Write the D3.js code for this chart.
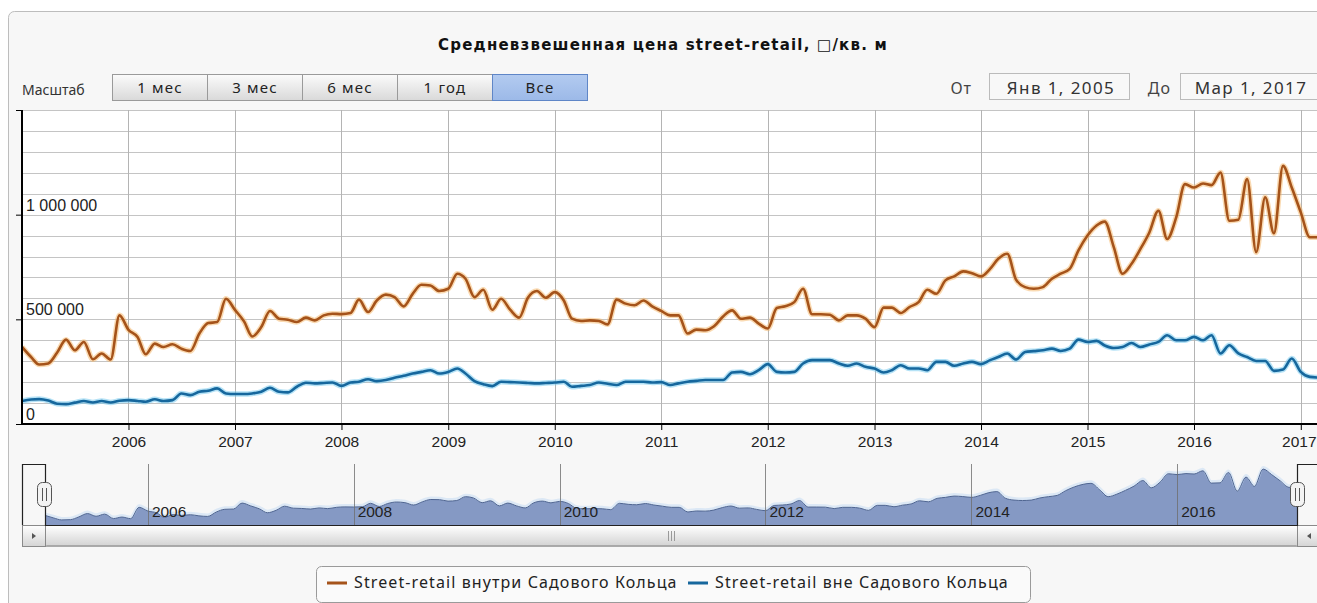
<!DOCTYPE html>
<html><head><meta charset="utf-8">
<script src="https://cdn.jsdelivr.net/npm/d3@7"></script>
<style>body{margin:0;background:#fff;overflow:hidden}</style>
</head><body>
<svg id="c" width="1317" height="603"></svg>
<script>
// ---------- data ----------
const chartTitle = "Средневзвешенная цена street-retail, □/кв. м";
const seriesNames = ["Street-retail внутри Садового Кольца", "Street-retail вне Садового Кольца"];
const firstMonth = new Date(2005, 0, 1);
const lastMonth = new Date(2017, 2, 1);
// monthly values, thousand per sq. m, Jan 2005 .. Mar 2017
const insideRing = [
  368,320,284,289,340,403,352,392,309,337,308,519,
  450,416,333,384,368,381,360,349,432,482,487,598,
  545,490,418,463,540,503,498,487,508,495,519,527,
  525,530,594,535,590,618,606,562,622,665,662,635,
  646,718,694,606,641,546,598,546,508,603,635,603,
  630,590,503,492,495,492,476,594,575,567,590,562,
  540,519,519,432,451,448,467,514,543,503,508,480,
  456,554,562,582,646,524,524,522,495,519,519,503,
  463,556,556,530,559,582,641,622,686,705,729,720,
  705,741,789,813,690,654,646,654,694,718,741,829,
  900,948,967,845,718,765,835,915,1019,884,987,1146,
  1130,1149,1141,1201,971,976,1170,821,1083,911,1233,1130,
  1011,892,892
];
const outsideRing = [
  110,117,119,112,97,95,102,110,103,110,103,111,
  114,110,106,118,110,114,146,138,154,159,170,146,
  143,143,146,154,173,154,151,178,197,194,196,198,
  182,198,202,214,205,210,221,230,241,249,257,241,
  249,265,241,205,190,181,202,200,198,196,194,196,
  198,202,178,182,186,198,192,186,202,202,202,198,
  200,186,194,202,206,210,210,210,246,249,238,257,
  286,249,246,249,289,305,305,305,289,278,289,273,
  265,246,257,281,265,265,257,297,297,278,289,297,
  286,305,320,337,308,344,348,352,360,349,360,403,
  392,397,375,363,368,387,368,380,392,424,400,400,
  416,400,424,337,376,337,320,301,301,254,260,313,
  249,225,222
];
const yMax = 1500;
const yGridStep = 100;
const yTickValues = [0, 500, 1000, 1500];
const yTickLabels = ["0", "500 000", "1 000 000", ""];
const xTickYears = [2006,2007,2008,2009,2010,2011,2012,2013,2014,2015,2016,2017];
const navTickYears = [2006,2008,2010,2012,2014,2016];
const rangeLabel = "Масштаб";
const rangeButtons = ["1 мес","3 мес","6 мес","1 год","Все"];
const selectedButton = 4;
const fromLabel = "От", toLabel = "До";
const fromText = "Янв 1, 2005", toText = "Мар 1, 2017";
const colors = ["#a5531a", "#16679d"];
const haloColors = ["#f6b566", "#6cc6ee"];

// ---------- build ----------
const months = d3.timeMonth.range(firstMonth, d3.timeMonth.offset(lastMonth, 1));
const rows = [insideRing, outsideRing].map(arr => arr.map((v, i) => ({date: months[i], v})));

const svg = d3.select("#c");
const defs = svg.append("defs");
function grad(id, a, b) {
  const g = defs.append("linearGradient").attr("id",id).attr("x1",0).attr("y1",0).attr("x2",0).attr("y2",1);
  g.append("stop").attr("offset","0").attr("stop-color",a);
  g.append("stop").attr("offset","1").attr("stop-color",b);
}
grad("gbtn", "#fbfbfb", "#d9d9d9");
grad("gsel", "#b3cbf0", "#9cb9e8");
grad("gscr", "#ffffff", "#d4d4d4");

// chart frame
svg.append("rect").attr("x",8.5).attr("y",11.5).attr("width",1340).attr("height",640)
  .attr("rx",6).attr("fill","#f7f7f7").attr("stroke","#bdbdbd");

// title
svg.append("text").attr("x",663).attr("y",50).attr("text-anchor","middle")
  .attr("font-family","DejaVu Sans").attr("font-weight","bold").attr("font-size",15)
  .attr("letter-spacing",1.2).attr("fill","#111").text(chartTitle);

// range selector
const uiFont = "Noto Sans";
svg.append("text").attr("x",22).attr("y",95).attr("font-family",uiFont).attr("font-size",14)
  .attr("fill","#333").text(rangeLabel);
const bx = d3.scaleBand().domain(rangeButtons).range([112.5, 587.5]).padding(0);
const btn = svg.append("g").selectAll("g").data(rangeButtons).join("g");
btn.append("rect").attr("x", d => bx(d)).attr("y",74.5).attr("width",bx.bandwidth()).attr("height",26)
  .attr("fill",(d,i)=> i===selectedButton ? "url(#gsel)" : "url(#gbtn)")
  .attr("stroke",(d,i)=> i===selectedButton ? "#5f86c7" : "#9a9a9a");
btn.append("text").attr("x", d => bx(d)+bx.bandwidth()/2).attr("y",93).attr("text-anchor","middle")
  .attr("font-family",uiFont).attr("font-size",15).attr("letter-spacing",1.2).attr("fill","#222").text(d=>d);

// date inputs
svg.append("text").attr("x",972).attr("y",94).attr("text-anchor","end").attr("font-family",uiFont)
  .attr("font-size",16).attr("letter-spacing",1).attr("fill","#444").text(fromLabel);
svg.append("rect").attr("x",989.5).attr("y",73.5).attr("width",140).attr("height",26)
  .attr("fill","#f8f8f8").attr("stroke","#bbb");
svg.append("text").attr("x",1061).attr("y",94).attr("text-anchor","middle").attr("font-family",uiFont)
  .attr("font-size",17).attr("letter-spacing",1.4).attr("fill","#333").text(fromText);
svg.append("text").attr("x",1171).attr("y",94).attr("text-anchor","end").attr("font-family",uiFont)
  .attr("font-size",16).attr("letter-spacing",1).attr("fill","#444").text(toLabel);
svg.append("rect").attr("x",1180.5).attr("y",73.5).attr("width",145).attr("height",26)
  .attr("fill","#f8f8f8").attr("stroke","#bbb");
svg.append("text").attr("x",1251).attr("y",94).attr("text-anchor","middle").attr("font-family",uiFont)
  .attr("font-size",17).attr("letter-spacing",1.4).attr("fill","#333").text(toText);

// main plot
const L = 22, R = 1318, T = 110, B = 424;
const x = d3.scaleTime().domain([firstMonth, lastMonth]).range([L, R]);
const y = d3.scaleLinear().domain([0, yMax]).range([B, T]);
svg.append("rect").attr("x",L).attr("y",T).attr("width",R-L).attr("height",B-T).attr("fill","#fff");

const grid = svg.append("g");
grid.selectAll("line.h").data(d3.range(0, yMax + 1, yGridStep)).join("line")
  .attr("x1",L).attr("x2",R).attr("y1",d=>Math.round(y(d))+0.5).attr("y2",d=>Math.round(y(d))+0.5)
  .attr("stroke","#c4c4c4");
grid.selectAll("line.v").data(xTickYears).join("line")
  .attr("x1",d=>Math.round(x(new Date(d,0,1)))+0.5).attr("x2",d=>Math.round(x(new Date(d,0,1)))+0.5)
  .attr("y1",T).attr("y2",B).attr("stroke","#b4b4b4");

defs.append("clipPath").attr("id","pc").append("rect")
  .attr("x",L).attr("y",T-5).attr("width",R-L+5).attr("height",B-T+5);
const line = d3.line().x(d=>x(d.date)).y(d=>y(d.v)).curve(d3.curveMonotoneX);
const gl = svg.append("g").attr("clip-path","url(#pc)");
rows.slice().reverse().forEach((r, k) => {
  const i = rows.length - 1 - k;
  gl.append("path").attr("d", line(r)).attr("fill","none").attr("stroke",haloColors[i])
    .attr("stroke-width",5.5).attr("stroke-opacity",0.5).attr("stroke-linejoin","round");
  gl.append("path").attr("d", line(r)).attr("fill","none").attr("stroke",colors[i])
    .attr("stroke-width",2.6).attr("stroke-linejoin","round");
});

// axes
const axFont = "Liberation Sans";
const yAxis = svg.append("g").attr("transform",`translate(${L},0)`)
  .call(d3.axisLeft(y).tickValues(yTickValues).tickSize(6).tickFormat(""));
yAxis.select(".domain").attr("stroke","#000").attr("stroke-width",2).attr("d",`M0,${T}V${B}`);
yAxis.selectAll(".tick line").attr("stroke","#000");
svg.append("g").selectAll("text").data(yTickValues).join("text")
  .attr("x",L+4).attr("y",d=>y(d)-4).attr("font-family",axFont).attr("font-size",16)
  .attr("fill","#222").text((d,i)=>yTickLabels[i]);

const xAxis = svg.append("g").attr("transform",`translate(0,${B})`)
  .call(d3.axisBottom(x).tickValues(xTickYears.map(v=>new Date(v,0,1))).tickSize(6).tickPadding(4)
    .tickFormat(d3.timeFormat("%Y")));
xAxis.select(".domain").attr("stroke","#000").attr("stroke-width",2).attr("d",`M${L},0H${R}`);
xAxis.selectAll(".tick line").attr("stroke","#000");
xAxis.selectAll(".tick text").attr("font-family",axFont).attr("font-size",15.5).attr("fill","#222")
  .attr("dy","0.85em");
// keep the last year label inside the window
xAxis.selectAll(".tick text").filter(d => x(d) + 18 > 1317)
  .attr("text-anchor","end").attr("x", d => 1316 - x(d));

// navigator
const NL = 45, NR = 1297, NT = 464, NB = 525;
const xn = d3.scaleTime().domain([firstMonth, lastMonth]).range([NL, NR]);
const ext = d3.extent(insideRing);
const pad = (ext[1]-ext[0])*0.1;
const yn = d3.scaleLinear().domain([ext[0]-pad, ext[1]+pad]).range([NB, NT]);
const nav = svg.append("g");
const area = d3.area().x(d=>xn(d.date)).y0(NB).y1(d=>yn(d.v)).curve(d3.curveMonotoneX);
const navLine = d3.line().x(d=>xn(d.date)).y(d=>yn(d.v)).curve(d3.curveMonotoneX);
nav.append("path").attr("d", area(rows[0])).attr("fill","#8599c4");
nav.append("path").attr("d", navLine(rows[0]))
  .attr("fill","none").attr("stroke","#c9def4").attr("stroke-width",3).attr("stroke-opacity",0.6)
  .attr("transform","translate(0,-1.5)");
nav.append("path").attr("d", navLine(rows[0]))
  .attr("fill","none").attr("stroke","#4f6591").attr("stroke-width",1);
nav.selectAll("line.g").data(navTickYears).join("line")
  .attr("x1",d=>Math.round(xn(new Date(d,0,1)))+0.5).attr("x2",d=>Math.round(xn(new Date(d,0,1)))+0.5)
  .attr("y1",NT).attr("y2",NB).attr("stroke","#6e6e6e").attr("stroke-width",0.8);
nav.selectAll("text").data(navTickYears).join("text")
  .attr("x",d=>xn(new Date(d,0,1))+4).attr("y",NB-8).attr("font-family",axFont)
  .attr("font-size",15.5).attr("fill","#222").text(d=>d);

// scrollbar
const SB = 546;
svg.append("rect").attr("x",22.5).attr("y",NB+0.5).attr("width",1300).attr("height",SB-NB).attr("fill","#eee").attr("stroke","#aaa");
svg.append("rect").attr("x",NL+0.5).attr("y",NB+0.5).attr("width",NR-NL).attr("height",SB-NB-1)
  .attr("fill","url(#gscr)").attr("stroke","#a8a8a8").attr("rx",1);
[[22.5, -1],[NR+0.5, 1]].forEach(([bx0, dir]) => {
  svg.append("rect").attr("x",bx0).attr("y",NB+0.5).attr("width",23).attr("height",SB-NB).attr("fill","url(#gscr)").attr("stroke","#8a8a8a");
  const cx = bx0 + 11.5, cy = (NB+SB)/2 + 0.5;
  svg.append("path").attr("d", `M${cx-2*dir},${cy}L${cx+2*dir},${cy-3}L${cx+2*dir},${cy+3}Z`).attr("fill","#555");
});
const gx = (NL+NR)/2;
[-3,0,3].forEach(o => svg.append("line").attr("x1",gx+o+0.5).attr("x2",gx+o+0.5)
  .attr("y1",NB+6).attr("y2",SB-5).attr("stroke","#9a9a9a"));

// outline + handles
svg.append("path").attr("d",`M22.5,${NB}V${NT+0.5}H${NL+0.5}V${NB+0.5}H${NR+0.5}V${NT+0.5}H1330`)
  .attr("fill","none").attr("stroke","#222").attr("stroke-width",1.2);
[NL - 1, NR].forEach(hx => {
  svg.append("rect").attr("x",hx-7+0.5).attr("y",482.5).attr("width",14).attr("height",24).attr("rx",5)
    .attr("fill","#f3f3f3").attr("stroke","#555");
  [-2,2].forEach(o => svg.append("line").attr("x1",hx+o+0.5).attr("x2",hx+o+0.5).attr("y1",488).attr("y2",501)
    .attr("stroke","#555"));
});

// legend
const lg = svg.append("g");
lg.append("rect").attr("x",316.5).attr("y",566.5).attr("width",714).attr("height",36).attr("rx",5)
  .attr("fill","#fafafa").attr("stroke","#9a9a9a");
const legendX = [327, 688];
seriesNames.forEach((n, i) => {
  lg.append("line").attr("x1",legendX[i]).attr("x2",legendX[i]+20).attr("y1",583).attr("y2",583)
    .attr("stroke",colors[i]).attr("stroke-width",3);
  lg.append("text").attr("x",legendX[i]+27).attr("y",588).attr("font-family",uiFont).attr("font-size",16)
    .attr("letter-spacing",1.1).attr("fill","#222").text(n);
});
</script>
</body></html>
